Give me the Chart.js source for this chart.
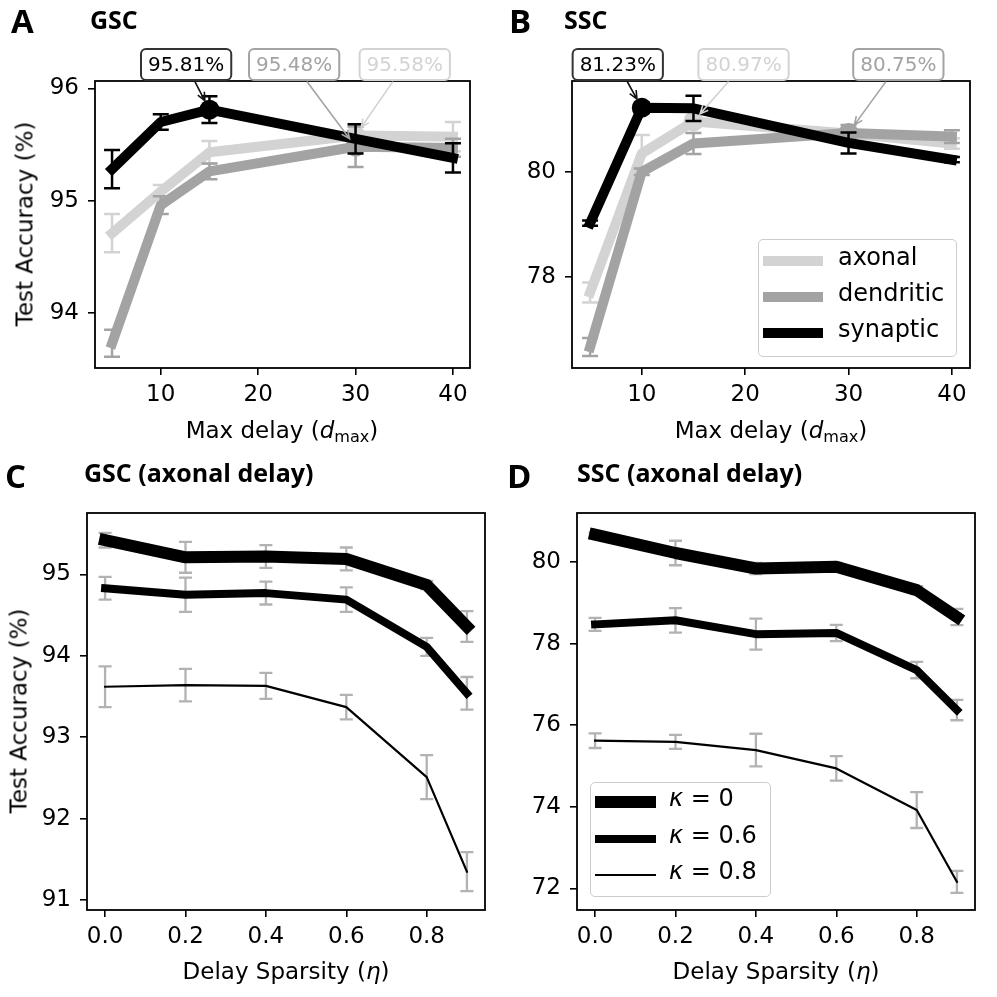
<!DOCTYPE html>
<html>
<head>
<meta charset="utf-8">
<script src="https://cdn.jsdelivr.net/npm/chart.js@4.4.1/dist/chart.umd.min.js"></script>
<style>
  body { margin: 0; background: #fff; }
  #page { position: relative; width: 997px; height: 997px; overflow: hidden; font-family: "DejaVu Sans"; color: #000; }
  canvas { position: absolute; left: 0; top: 0; }
  .t { position: absolute; white-space: nowrap; line-height: 1; }
  .lab { font-family: "Open Sans"; font-weight: bold; }
  .ax { font-size: 23px; transform: translateX(-50%); }
  .yl { font-size: 23px; transform: translate(-50%, -50%) rotate(-90deg); }
  .lg { position: absolute; border: 1.5px solid #ccc; border-radius: 5px; background: rgba(255,255,255,0.8); box-sizing: border-box; }
  .hd { position: absolute; }
</style>
</head>
<body>
<div id="page">
  <canvas id="cA" width="997" height="997"></canvas>
  <canvas id="cB" width="997" height="997"></canvas>
  <canvas id="cC" width="997" height="997"></canvas>
  <canvas id="cD" width="997" height="997"></canvas>

  <div class="t lab" style="left:11px;top:4px;font-size:33px">A</div>
  <div class="t lab" style="left:90px;top:7px;font-size:25px">GSC</div>
  <div class="t lab" style="left:509px;top:4px;font-size:33px">B</div>
  <div class="t lab" style="left:564px;top:7px;font-size:25px">SSC</div>
  <div class="t lab" style="left:5px;top:459px;font-size:33px">C</div>
  <div class="t lab" style="left:84px;top:460px;font-size:25px">GSC (axonal delay)</div>
  <div class="t lab" style="left:507px;top:459px;font-size:33px">D</div>
  <div class="t lab" style="left:577px;top:460px;font-size:25px">SSC (axonal delay)</div>

  <div class="t ax" style="left:282px;top:419px">Max delay (<i>d</i><span style="font-size:0.7em;position:relative;top:4px">max</span>)</div>
  <div class="t ax" style="left:771px;top:419px">Max delay (<i>d</i><span style="font-size:0.7em;position:relative;top:4px">max</span>)</div>
  <div class="t ax" style="left:286px;top:960px">Delay Sparsity (<i>η</i>)</div>
  <div class="t ax" style="left:776px;top:960px">Delay Sparsity (<i>η</i>)</div>
  <div class="t yl" style="left:25px;top:224px">Test Accuracy (%)</div>
  <div class="t yl" style="left:19px;top:711px">Test Accuracy (%)</div>

  <div id="legB" class="lg" style="left:758px;top:239px;width:199px;height:118px"></div>
  <div id="legD" class="lg" style="left:590px;top:782px;width:181px;height:115px"></div>
</div>

<script>
// panel A / B : accuracy vs max delay
const maxDelay = [5, 10, 15, 30, 40];
const delayTypes = ['axonal', 'dendritic', 'synaptic'];
const typeColors = ['#d3d3d3', '#a3a3a3', '#000000'];

const gscAxonal = [94.71, 95.08, 95.43, 95.58, 95.57];
const gscAxonalErr = [0.17, 0.06, 0.10, 0.08, 0.13];
const gscDendritic = [93.73, 94.96, 95.26, 95.48, 95.47];
const gscDendriticErr = [0.12, 0.08, 0.07, 0.18, 0.08];
const gscSynaptic = [95.28, 95.70, 95.81, 95.55, 95.38];
const gscSynapticErr = [0.17, 0.07, 0.12, 0.13, 0.13];

const sscAxonal = [77.71, 80.36, 80.97, 80.74, 80.55];
const sscAxonalErr = [0.19, 0.35, 0.10, 0.08, 0.10];
const sscDendritic = [76.67, 80.01, 80.55, 80.75, 80.68];
const sscDendriticErr = [0.17, 0.06, 0.20, 0.15, 0.12];
const sscSynaptic = [79.03, 81.23, 81.22, 80.56, 80.24];
const sscSynapticErr = [0.05, 0.10, 0.24, 0.20, 0.05];

// panel C / D : accuracy vs delay sparsity
const sparsity = [0, 0.2, 0.4, 0.6, 0.8, 0.9];
const kappas = ['0', '0.6', '0.8'];
const kappaWidths = [12, 8, 2.2];

const gscK0 = [95.42, 95.21, 95.22, 95.19, 94.87, 94.36];
const gscK0Err = [0.09, 0.19, 0.14, 0.14, 0.05, 0.19];
const gscK06 = [94.83, 94.75, 94.77, 94.69, 94.11, 93.54];
const gscK06Err = [0.14, 0.21, 0.14, 0.15, 0.11, 0.20];
const gscK08 = [93.62, 93.64, 93.63, 93.37, 92.51, 91.35];
const gscK08Err = [0.25, 0.20, 0.16, 0.15, 0.27, 0.24];

const sscK0 = [80.67, 80.22, 79.84, 79.88, 79.31, 78.65];
const sscK0Err = [0.05, 0.30, 0.14, 0.10, 0.10, 0.20];
const sscK06 = [78.47, 78.57, 78.23, 78.26, 77.35, 76.37];
const sscK06Err = [0.16, 0.30, 0.38, 0.20, 0.20, 0.25];
const sscK08 = [75.62, 75.59, 75.39, 74.94, 73.92, 72.16];
const sscK08Err = [0.18, 0.17, 0.40, 0.30, 0.44, 0.27];

// ticks
const delayTicks = [10, 20, 30, 40];
const sparsityTicks = [0, 0.2, 0.4, 0.6, 0.8];
const yTicksA = [94, 95, 96];
const yTicksB = [78, 80];
const yTicksC = [91, 92, 93, 94, 95];
const yTicksD = [72, 74, 76, 78, 80];

Chart.defaults.font.family = '"DejaVu Sans"';
Chart.defaults.color = '#000';

function pts(xs, ys) {
  return xs.map((x, i) => ({ x: x, y: ys[i] }));
}

// error bars, drawn right after each dataset's line
const errPlugin = {
  id: 'errbars',
  afterDatasetDraw(chart, args) {
    const ds = chart.data.datasets[args.index];
    if (!ds.err) return;
    const xs = chart.scales.x, ys = chart.scales.y, ctx = chart.ctx;
    ctx.save();
    ctx.strokeStyle = ds.errColor;
    ctx.lineWidth = ds.errWidth;
    ds.data.forEach((p, i) => {
      const x = xs.getPixelForValue(p.x);
      const y1 = ys.getPixelForValue(p.y - ds.err[i]);
      const y2 = ys.getPixelForValue(p.y + ds.err[i]);
      ctx.beginPath();
      ctx.moveTo(x, y1); ctx.lineTo(x, y2);
      ctx.moveTo(x - ds.cap, y1); ctx.lineTo(x + ds.cap, y1);
      ctx.moveTo(x - ds.cap, y2); ctx.lineTo(x + ds.cap, y2);
      ctx.stroke();
    });
    ctx.restore();
  }
};

const framePlugin = {
  id: 'frame',
  afterDatasetsDraw(chart) {
    const a = chart.chartArea, ctx = chart.ctx;
    ctx.save();
    ctx.strokeStyle = '#000';
    ctx.lineWidth = 1.8;
    ctx.strokeRect(a.left, a.top, a.right - a.left, a.bottom - a.top);
    ctx.restore();
  }
};

function boxPath(ctx, x, y, w, h, r) {
  ctx.beginPath();
  ctx.moveTo(x + r, y);
  ctx.arcTo(x + w, y, x + w, y + h, r);
  ctx.arcTo(x + w, y + h, x, y + h, r);
  ctx.arcTo(x, y + h, x, y, r);
  ctx.arcTo(x, y, x + w, y, r);
  ctx.closePath();
}

// best-value labels with arrows
const notePlugin = {
  id: 'notes',
  afterDraw(chart, args, opts) {
    if (!opts.items) return;
    const ctx = chart.ctx, a = chart.chartArea;
    opts.items.forEach(n => {
      const ds = chart.data.datasets[n.ds];
      const p = ds.data[ds.best];
      const px = chart.scales.x.getPixelForValue(p.x);
      const py = chart.scales.y.getPixelForValue(p.y);
      const cx = a.left + n.fx * (a.right - a.left);
      const cy = a.bottom - n.fy * (a.bottom - a.top);
      const text = p.y.toFixed(2) + '%';
      ctx.save();
      ctx.font = '20px "DejaVu Sans"';
      const w = ctx.measureText(text).width + 14, h = 31;
      const dx = px - cx, dy = py - cy;
      const t = Math.min(Math.abs((h / 2) / dy), Math.abs((w / 2) / dx));
      let sx = cx + dx * t, sy = cy + dy * t;
      const len = Math.hypot(px - sx, py - sy);
      const ux = (px - sx) / len, uy = (py - sy) / len;
      sx += ux * 2; sy += uy * 2;
      const ex = px - ux * 10, ey = py - uy * 10;
      const ang = Math.atan2(uy, ux), hl = 9, ha = 0.42;
      ctx.strokeStyle = n.arrow;
      ctx.lineWidth = 1.6;
      ctx.beginPath();
      ctx.moveTo(sx, sy); ctx.lineTo(ex, ey);
      ctx.moveTo(ex - hl * Math.cos(ang - ha), ey - hl * Math.sin(ang - ha));
      ctx.lineTo(ex, ey);
      ctx.lineTo(ex - hl * Math.cos(ang + ha), ey - hl * Math.sin(ang + ha));
      ctx.stroke();
      boxPath(ctx, cx - w / 2, cy - h / 2, w, h, 5);
      ctx.fillStyle = '#fff';
      ctx.fill();
      ctx.lineWidth = 2;
      ctx.strokeStyle = n.edge;
      ctx.stroke();
      ctx.fillStyle = n.color;
      ctx.textAlign = 'center';
      ctx.textBaseline = 'middle';
      ctx.fillText(text, cx, cy + 1);
      ctx.restore();
    });
  }
};

function delaySet(i, ys, err) {
  const color = typeColors[i];
  const best = ys.indexOf(Math.max(...ys));
  return {
    label: delayTypes[i], data: pts(maxDelay, ys), best: best,
    err: err, errColor: color, errWidth: 2.5, cap: 8,
    borderColor: color, backgroundColor: color, borderWidth: 10,
    borderCapStyle: 'square', borderJoinStyle: 'round',
    pointRadius: maxDelay.map((_, k) => k === best ? 10 : 0),
    pointBorderWidth: 0, pointHoverRadius: 0,
    order: 2 - i
  };
}

function kappaSet(i, ys, err) {
  return {
    label: 'κ = ' + kappas[i], data: pts(sparsity, ys),
    err: err, errColor: 'rgba(0,0,0,0.3)', errWidth: 2.3, cap: 6.5,
    borderColor: '#000', borderWidth: kappaWidths[i],
    borderCapStyle: 'square', borderJoinStyle: 'round',
    pointRadius: 0, pointHoverRadius: 0, order: i
  };
}

function panel(id, rect, xr, yr, xTicks, yTicks, xFmt, datasets, notes) {
  const axisW = 80, axisH = 60;
  const grid = { drawOnChartArea: false, drawTicks: true, tickLength: 7, color: '#000', lineWidth: 1.6 };
  return new Chart(document.getElementById(id), {
    type: 'line',
    data: { datasets: datasets },
    options: {
      responsive: false, animation: false, devicePixelRatio: 1, events: [],
      layout: { padding: { left: rect[0] - axisW, top: rect[1], right: 997 - rect[2], bottom: 997 - rect[3] - axisH } },
      plugins: { legend: { display: false }, tooltip: { enabled: false }, notes: { items: notes } },
      scales: {
        x: {
          type: 'linear', min: xr[0], max: xr[1],
          afterFit: s => { s.height = axisH; },
          afterBuildTicks: s => { s.ticks = xTicks.map(v => ({ value: v })); },
          grid: grid, border: { display: false },
          ticks: { font: { size: 23 }, color: '#000', padding: 6, maxRotation: 0, autoSkip: false, callback: xFmt }
        },
        y: {
          type: 'linear', min: yr[0], max: yr[1],
          afterFit: s => { s.width = axisW; },
          afterBuildTicks: s => { s.ticks = yTicks.map(v => ({ value: v })); },
          grid: grid, border: { display: false },
          ticks: { font: { size: 23 }, color: '#000', padding: 9, autoSkip: false, callback: v => String(v) }
        }
      }
    },
    plugins: [errPlugin, framePlugin, notePlugin]
  });
}

const intFmt = v => String(v);
const decFmt = v => v.toFixed(1);

panel('cA', [95, 81, 470, 368], [3.25, 41.75], [93.51, 96.065], delayTicks, yTicksA, intFmt,
  [delaySet(0, gscAxonal, gscAxonalErr), delaySet(1, gscDendritic, gscDendriticErr), delaySet(2, gscSynaptic, gscSynapticErr)],
  [
    { ds: 2, fx: 0.243, fy: 1.0575, color: '#000', edge: '#333', arrow: '#111' },
    { ds: 1, fx: 0.531, fy: 1.0575, color: typeColors[1], edge: typeColors[1], arrow: typeColors[1] },
    { ds: 0, fx: 0.826, fy: 1.0575, color: typeColors[0], edge: typeColors[0], arrow: typeColors[0] }
  ]);

panel('cB', [572, 81, 970, 368], [3.25, 41.75], [76.27, 81.74], delayTicks, yTicksB, intFmt,
  [delaySet(0, sscAxonal, sscAxonalErr), delaySet(1, sscDendritic, sscDendriticErr), delaySet(2, sscSynaptic, sscSynapticErr)],
  [
    { ds: 2, fx: 0.115, fy: 1.0575, color: '#000', edge: '#333', arrow: '#111' },
    { ds: 0, fx: 0.431, fy: 1.0575, color: typeColors[0], edge: typeColors[0], arrow: typeColors[0] },
    { ds: 1, fx: 0.820, fy: 1.0575, color: typeColors[1], edge: typeColors[1], arrow: typeColors[1] }
  ]);

panel('cC', [87, 513, 485, 910], [-0.045, 0.945], [90.878, 95.754], sparsityTicks, yTicksC, decFmt,
  [kappaSet(0, gscK0, gscK0Err), kappaSet(1, gscK06, gscK06Err), kappaSet(2, gscK08, gscK08Err)], []);

panel('cD', [577, 513, 975, 910], [-0.045, 0.945], [71.47, 81.2], sparsityTicks, yTicksD, decFmt,
  [kappaSet(0, sscK0, sscK0Err), kappaSet(1, sscK06, sscK06Err), kappaSet(2, sscK08, sscK08Err)], []);

// legends (positions relative to the legend boxes)
function legendRow(box, top, handleLeft, handleW, handleH, color, textLeft, html) {
  const hd = document.createElement('div');
  hd.className = 'hd';
  hd.style.cssText = 'left:' + handleLeft + 'px;top:' + (top - handleH / 2) + 'px;width:' + handleW + 'px;height:' + handleH + 'px;background:' + color;
  box.appendChild(hd);
  const tx = document.createElement('div');
  tx.className = 't';
  tx.style.cssText = 'left:' + textLeft + 'px;top:' + (top - 16) + 'px;font-size:24px';
  tx.innerHTML = html;
  box.appendChild(tx);
}

const legB = document.getElementById('legB');
delayTypes.forEach((name, i) => {
  legendRow(legB, 21 + i * 36, 4, 60, 10, typeColors[i], 79, name);
});
const legD = document.getElementById('legD');
kappas.forEach((k, i) => {
  legendRow(legD, 19 + i * 36.5, 4, 61, kappaWidths[i], '#000', 78, '<i>κ</i> = ' + k);
});
</script>
</body>
</html>
